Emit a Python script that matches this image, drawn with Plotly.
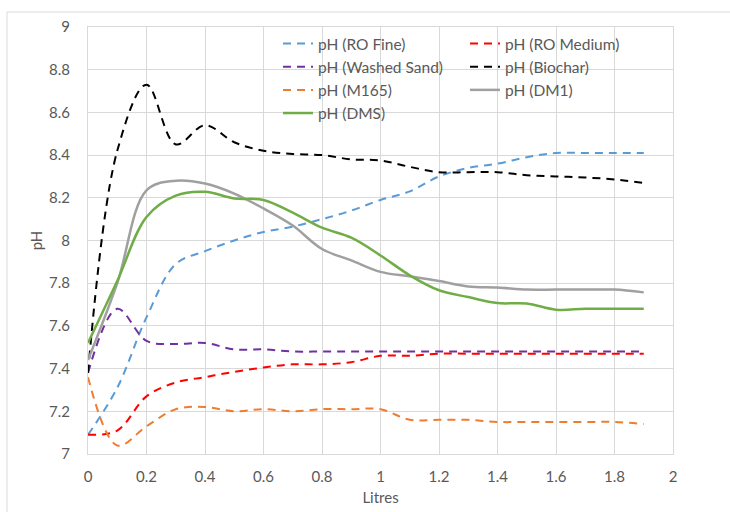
import plotly.graph_objects as go

litres = [0, 0.1, 0.2, 0.3, 0.4, 0.5, 0.6, 0.7, 0.8, 0.9, 1.0,
          1.1, 1.2, 1.3, 1.4, 1.5, 1.6, 1.7, 1.8, 1.9]

ph_ro_fine = [7.09, 7.31, 7.64, 7.89, 7.95, 8.00, 8.04, 8.065, 8.10, 8.14, 8.19,
              8.23, 8.30, 8.34, 8.36, 8.39, 8.41, 8.41, 8.41, 8.41]
ph_ro_medium = [7.09, 7.11, 7.27, 7.335, 7.36, 7.385, 7.405, 7.42, 7.42, 7.43, 7.46,
                7.46, 7.47, 7.47, 7.47, 7.47, 7.47, 7.47, 7.47, 7.47]
ph_washed_sand = [7.38, 7.68, 7.53, 7.515, 7.52, 7.49, 7.49, 7.48, 7.48, 7.48, 7.48,
                  7.48, 7.48, 7.48, 7.48, 7.48, 7.48, 7.48, 7.48, 7.48]
ph_biochar = [7.38, 8.42, 8.73, 8.45, 8.54, 8.46, 8.42, 8.405, 8.40, 8.38, 8.375,
              8.345, 8.32, 8.32, 8.32, 8.306, 8.30, 8.295, 8.286, 8.27]
ph_m165 = [7.36, 7.04, 7.13, 7.21, 7.22, 7.20, 7.21, 7.20, 7.21, 7.21, 7.21,
           7.16, 7.16, 7.16, 7.15, 7.15, 7.15, 7.15, 7.15, 7.14]
ph_dm1 = [7.44, 7.80, 8.235, 8.28, 8.267, 8.22, 8.15, 8.07, 7.96, 7.907, 7.853,
          7.832, 7.81, 7.785, 7.78, 7.77, 7.77, 7.77, 7.77, 7.757]
ph_dms = [7.52, 7.81, 8.11, 8.21, 8.228, 8.197, 8.19, 8.13, 8.06, 8.013, 7.93,
          7.837, 7.767, 7.735, 7.707, 7.705, 7.676, 7.68, 7.68, 7.68]

series = [
    ("pH (RO Fine)", ph_ro_fine, "#5B9BD5", "8px,6px", 2, "legend"),
    ("pH (RO Medium)", ph_ro_medium, "#FF0000", "8px,6px", 2, "legend2"),
    ("pH (Washed Sand)", ph_washed_sand, "#7030A0", "8px,6px", 2, "legend"),
    ("pH (Biochar)", ph_biochar, "#000000", "8px,6px", 2, "legend2"),
    ("pH (M165)", ph_m165, "#ED7D31", "8px,6px", 2, "legend"),
    ("pH (DM1)", ph_dm1, "#A0A0A0", "solid", 2.5, "legend2"),
    ("pH (DMS)", ph_dms, "#70AD47", "solid", 2.5, "legend"),
]

FONT = "Lato"
TXT = "#595959"
GRID = "#D9D9D9"

fig = go.Figure()
for name, vals, color, dash, w, lg in series:
    fig.add_trace(go.Scatter(
        x=litres, y=vals, name=name, mode="lines",
        line=dict(color=color, width=w, dash=dash, shape="spline", smoothing=1),
        legend=lg,
    ))

W, H = 730, 512
L, R, T, B = 88, 57, 27, 58
pw, ph = W - L - R, H - T - B

def px2x(p):
    return (p - L) / pw

def py2y(p):
    return (H - B - p) / ph

legend_common = dict(
    orientation="v", yanchor="top", xanchor="left",
    bgcolor="rgba(0,0,0,0)", borderwidth=0,
    font=dict(family=FONT, size=15.5, color=TXT),
    itemwidth=30, tracegroupgap=0,
)

fig.update_layout(
    width=W, height=H,
    margin=dict(l=L, r=R, t=T, b=B, autoexpand=False),
    paper_bgcolor="white", plot_bgcolor="white",
    font=dict(family=FONT, size=15, color=TXT),
    showlegend=True,
    legend=dict(x=px2x(278), y=py2y(27), **legend_common),
    legend2=dict(x=px2x(465), y=py2y(27), **legend_common),
    xaxis=dict(
        range=[0, 2], tick0=0, dtick=0.2, showgrid=True, gridcolor=GRID, gridwidth=1,
        zeroline=False, showline=True, linecolor=GRID, linewidth=1, mirror=True,
        ticks="", ticklabelstandoff=9, automargin=False,
        tickfont=dict(family=FONT, size=15, color=TXT),
        title=dict(text="Litres", font=dict(family=FONT, size=15, color=TXT), standoff=8),
    ),
    yaxis=dict(
        range=[7, 9], tick0=7, dtick=0.2, showgrid=True, gridcolor=GRID, gridwidth=1,
        zeroline=False, showline=True, linecolor=GRID, linewidth=1, mirror=True,
        ticks="", ticklabelstandoff=14, automargin=False,
        tickfont=dict(family=FONT, size=15, color=TXT),
        title=dict(text="pH", font=dict(family=FONT, size=15, color=TXT), standoff=2),
    ),
    shapes=[
        dict(type="line", xref="paper", yref="paper", x0=px2x(7), x1=px2x(740),
             y0=py2y(12), y1=py2y(12), line=dict(color=GRID, width=1)),
        dict(type="line", xref="paper", yref="paper", x0=px2x(7), x1=px2x(7),
             y0=py2y(12), y1=py2y(520), line=dict(color=GRID, width=1)),
    ],
)

fig.write_html("out.html")
